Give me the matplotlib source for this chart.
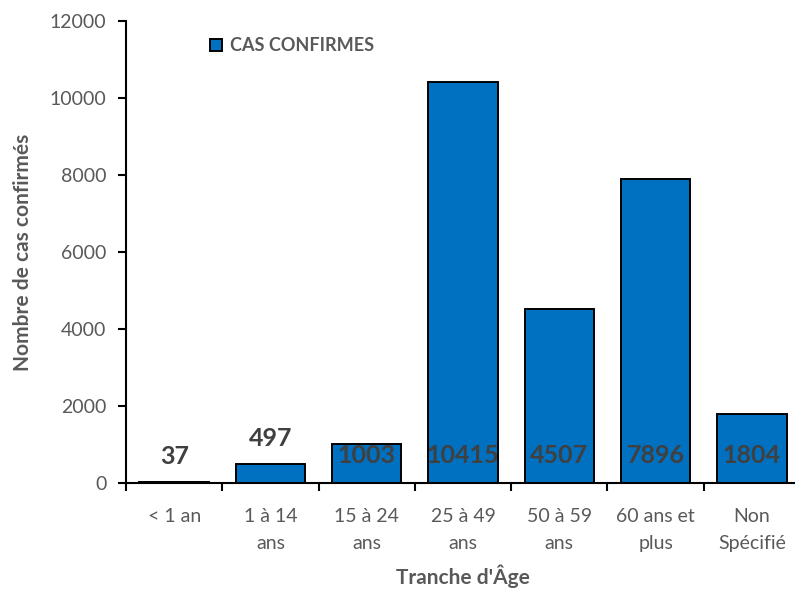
import matplotlib.pyplot as plt
import numpy as np

# data
categories = ['< 1 an', '1 à 14\nans', '15 à 24\nans', '25 à 49\nans',
              '50 à 59\nans', '60 ans et\nplus', 'Non\nSpécifié']
cas_confirmes = [37, 497, 1003, 10415, 4507, 7896, 1804]
y_ticks = [0, 2000, 4000, 6000, 8000, 10000, 12000]

grey = '#595959'
label_grey = '#404040'
bar_blue = '#0070C0'

plt.rcParams['font.family'] = ['Lato', 'DejaVu Sans']

fig = plt.figure(figsize=(7.95, 5.93), dpi=100)
ax = fig.add_axes([126 / 795, 110 / 593, 674 / 795, 462 / 593])

x = np.arange(len(categories))
ax.bar(x, cas_confirmes, width=0.72, color=bar_blue, edgecolor='black',
       linewidth=1.4, label='CAS CONFIRMES', zorder=2)

# data labels: small values above the bar, others at the inside base
for i, v in enumerate(cas_confirmes):
    if v < 800:
        ax.annotate(str(v), xy=(i, v), xytext=(0, 18), textcoords='offset points',
                    ha='center', va='center', fontsize=18, fontweight='bold',
                    color=label_grey)
    else:
        ax.annotate(str(v), xy=(i, 0), xytext=(0, 20), textcoords='offset points',
                    ha='center', va='center', fontsize=18, fontweight='bold',
                    color=label_grey, zorder=3)

ax.set_xlim(-0.5, len(categories) - 0.5)
ax.set_ylim(0, 12000)
ax.set_yticks(y_ticks)
ax.set_yticklabels([str(t) for t in y_ticks])

# category boundaries as major ticks, labels on minor ticks at bar centres
ax.set_xticks(np.arange(len(categories) + 1) - 0.5)
ax.set_xticklabels([])
ax.set_xticks(x, minor=True)
ax.set_xticklabels(categories, minor=True, linespacing=1.7)
ax.tick_params(axis='x', which='major', length=6, width=1.5, direction='out', color='black')
ax.tick_params(axis='x', which='minor', length=0, pad=18, labelsize=14, labelcolor=grey)
ax.tick_params(axis='y', length=6, width=1.5, direction='out', labelsize=14,
               labelcolor=grey, pad=8)

for side in ['top', 'right']:
    ax.spines[side].set_visible(False)
ax.spines['left'].set_linewidth(1.5)
ax.spines['bottom'].set_linewidth(1.5)
ax.spines['bottom'].set_clip_on(False)

ax.set_ylabel('Nombre de cas confirmés', fontsize=15, fontweight='bold', color=grey, labelpad=12)
ax.set_xlabel("Tranche d'Âge", fontsize=15, fontweight='bold', color=grey, labelpad=9)

leg = ax.legend(loc='upper left', bbox_to_anchor=(0.1, 1.0), frameon=False,
                handlelength=0.7, handleheight=0.7, handletextpad=0.4,
                prop={'size': 13, 'weight': 'bold'})
for t in leg.get_texts():
    t.set_color(grey)

fig.savefig('out.png', dpi=100)
